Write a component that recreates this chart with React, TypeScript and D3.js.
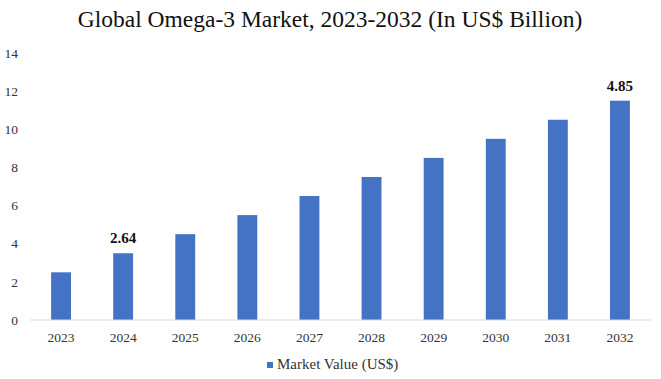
import React from "react";
import * as d3 from "d3";

const years = ["2023", "2024", "2025", "2026", "2027", "2028", "2029", "2030", "2031", "2032"];
const marketValues = [2.5, 3.5, 4.5, 5.5, 6.5, 7.5, 8.5, 9.5, 10.5, 11.5];
const dataLabels: (string | null)[] = [null, "2.64", null, null, null, null, null, null, null, "4.85"];
const yTicks = [0, 2, 4, 6, 8, 10, 12, 14];
const title = "Global Omega-3 Market, 2023-2032 (In US$ Billion)";
const legendLabel = "Market Value (US$)";

const W = 661;
const H = 379;
const FONT = "'Liberation Serif', 'DejaVu Serif', serif";
const BAR = "#4472C4";

export default function App() {
  const x = d3.scaleBand<string>().domain(years).range([30, 651]).paddingInner(0.68).paddingOuter(0.34);
  const y = d3.scaleLinear().domain([0, 14]).range([320, 53]);

  return (
    <svg width={W} height={H} style={{ position: "absolute", left: 0, top: 0, background: "#fff" }}>
      <text x={330} y={27} textAnchor="middle" fontFamily={FONT} fontSize={23.5} fill="#111">
        {title}
      </text>
      {yTicks.map((t) => (
        <text key={t} x={18} y={y(t)} dy="0.35em" textAnchor="end" fontFamily={FONT} fontSize={13.5} fill="#333">
          {t}
        </text>
      ))}
      {years.map((yr, i) => (
        <rect key={yr} x={x(yr)} y={y(marketValues[i])} width={x.bandwidth()} height={y(0) - y(marketValues[i])} fill={BAR} />
      ))}
      <line x1={30} x2={651} y1={y(0)} y2={y(0)} stroke="#d9d9d9" strokeWidth={1} />
      {years.map((yr) => (
        <text key={yr} x={(x(yr) as number) + x.bandwidth() / 2} y={342} textAnchor="middle" fontFamily={FONT} fontSize={13.5} fill="#333">
          {yr}
        </text>
      ))}
      {years.map((yr, i) =>
        dataLabels[i] ? (
          <text key={"l" + yr} x={(x(yr) as number) + x.bandwidth() / 2} y={y(marketValues[i]) - 10} textAnchor="middle" fontFamily={FONT} fontSize={15} fontWeight="bold" fill="#111">
            {dataLabels[i]}
          </text>
        ) : null
      )}
      <rect x={267} y={362} width={6} height={6} fill={BAR} />
      <text x={277} y={369} fontFamily={FONT} fontSize={15} fill="#333">
        {legendLabel}
      </text>
    </svg>
  );
}
